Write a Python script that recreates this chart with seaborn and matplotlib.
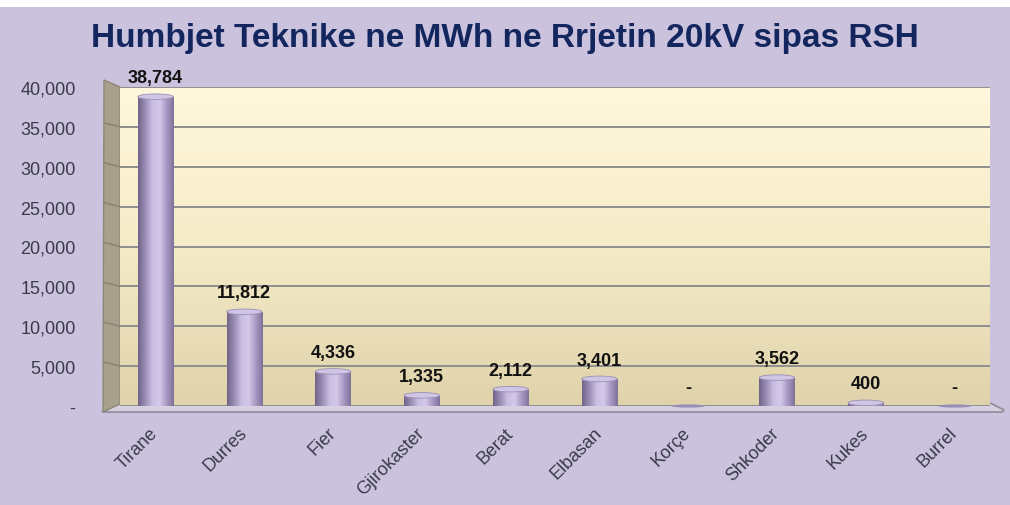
import numpy as np
import pandas as pd
import seaborn as sns
import matplotlib.pyplot as plt
import matplotlib.transforms as mtransforms
from matplotlib.colors import LinearSegmentedColormap
from matplotlib.patches import Ellipse, Polygon, Rectangle
from matplotlib.lines import Line2D

# data
cities = ["Tirane", "Durres", "Fier", "Gjirokaster", "Berat",
          "Elbasan", "Korçe", "Shkoder", "Kukes", "Burrel"]
losses_mwh = [38784, 11812, 4336, 1335, 2112, 3401, 0, 3562, 400, 0]
y_ticks = [0, 5000, 10000, 15000, 20000, 25000, 30000, 35000, 40000]

BG = "#CBC3DD"
W, H = 1010, 506
Y0, Y40 = 407, 88   # pixel rows of 0 and 40,000 on the back wall

sns.set_theme(style="white")
plt.rcParams["font.family"] = ["Liberation Sans", "DejaVu Sans"]

fig = plt.figure(figsize=(W / 100, H / 100), dpi=100, facecolor=BG)
ax = fig.add_axes([120 / W, 1 - Y0 / H, 870 / W, (Y0 - Y40) / H])
ax.patch.set_visible(False)

px = lambda x, y: (x / W, 1 - y / H)

# white strip on top of the picture
fig.patches.append(Rectangle(px(0, 8), 1, 8 / H, transform=fig.transFigure,
                             facecolor="white", edgecolor="none", zorder=-2))
# floor, behind the axes
fig.patches.append(Polygon([px(102, 413), px(120, 404), px(990, 404), px(1004, 411),
                            px(1002, 413)], closed=True, transform=fig.transFigure,
                           facecolor="#D6D0E2", edgecolor="#8F8C98", lw=1.2, zorder=-1))
# side wall
fig.patches.append(Polygon([px(104, 81), px(120, 88), px(120, 405), px(103, 413)],
                           closed=True, transform=fig.transFigure,
                           facecolor="#A8A08A", edgecolor="#8E8878", lw=1, zorder=-1))

# back wall gradient
wall = LinearSegmentedColormap.from_list("wall", ["#E0D3AB", "#F4EBC8", "#FFF8DC"])
ax.imshow(np.linspace(0, 1, 256).reshape(-1, 1), aspect="auto", cmap=wall,
          extent=[-0.4, 9.4, 0, 40000], origin="lower", zorder=0)

df = pd.DataFrame({"city": cities, "mwh": losses_mwh})
sns.barplot(data=df, x="city", y="mwh", ax=ax, width=0.4, color="#B5A8CF",
            edgecolor="none", zorder=3)

# cylinder shading
cyl = LinearSegmentedColormap.from_list(
    "cyl", ["#6F6488", "#9A8DB5", "#C9BDE2", "#D4C9EA", "#A898C4", "#7E7299"])
grad = np.linspace(0, 1, 256).reshape(1, -1)
for bar, v in zip(ax.patches, losses_mwh):
    x0, w = bar.get_x(), bar.get_width()
    if v > 0:
        im = ax.imshow(grad, aspect="auto", cmap=cyl, extent=[x0, x0 + w, 0, v],
                       zorder=4)
        im.set_clip_path(bar)
        ax.add_patch(Ellipse((x0 + w / 2, v), w, 700, facecolor="#CFC5E4",
                             edgecolor="#9C90B6", lw=0.6, zorder=5))
    else:
        ax.add_patch(Ellipse((x0 + w / 2, 0), w * 0.95, 400, facecolor="#9A8EB6",
                             edgecolor="none", zorder=5, clip_on=False))
    ax.text(x0 + w / 2, v + 1300, f"{v:,}" if v else "-", ha="center", va="bottom",
            fontsize=13, fontweight="bold", color="#111111", zorder=6)

ax.set_xlim(-0.4, 9.4)
ax.set_ylim(0, 40000)
ax.set_yticks(y_ticks)
ax.set_yticklabels([f"{t:,}" if t else "-" for t in y_ticks])
ax.yaxis.grid(True, color="#8E8E8E", lw=1.4, zorder=1)
ax.set_axisbelow(True)
ax.tick_params(axis="y", labelsize=13, labelcolor="#3A3A4A", pad=32, length=0)
ax.tick_params(axis="x", labelsize=13, labelcolor="#3A3A4A", pad=13, length=0)
shift = mtransforms.ScaledTranslation(-6 / 100, 0, fig.dpi_scale_trans)
for lab in ax.get_xticklabels():
    lab.set_rotation(45)
    lab.set_ha("right")
    lab.set_rotation_mode("anchor")
    lab.set_transform(lab.get_transform() + shift)
ax.set_xlabel("")
ax.set_ylabel("")
for s in ax.spines.values():
    s.set_visible(False)

# grid lines continuing over the side wall
for t in y_ticks[1:-1]:
    yp = Y0 - (Y0 - Y40) * t / 40000
    fig.add_artist(Line2D([104 / W, 120 / W], [1 - (yp - 4) / H, 1 - yp / H],
                          color="#8A8576", lw=1.2))

fig.text(0.5, 1 - 38 / H, "Humbjet Teknike ne MWh ne Rrjetin 20kV sipas RSH",
         ha="center", va="center", fontsize=24, fontweight="bold", color="#14265E")

fig.savefig("out.png", dpi=100, facecolor=BG)
